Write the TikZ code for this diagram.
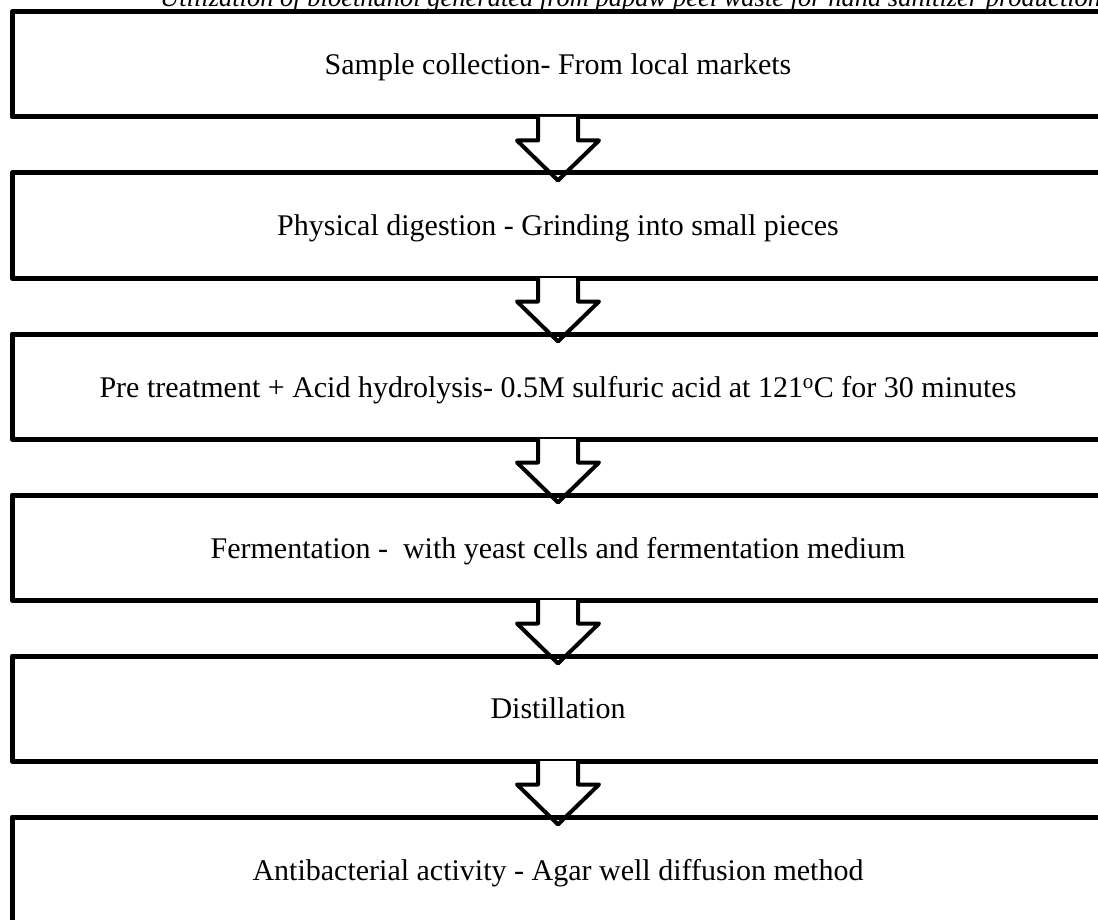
\documentclass[tikz,border=0pt]{standalone}
\usepackage{fontspec}
\setmainfont{Liberation Serif}
\begin{document}
\begin{tikzpicture}[x=1pt,y=-1pt,
  box/.style={draw,line width=5pt,line join=round,minimum width=1092pt,minimum height=105pt,inner sep=0pt,text depth=0pt,font=\fontsize{30}{36}\selectfont},
  flow/.style={draw,line width=4pt,line join=round,fill=white},
  titletext/.style={font=\itshape\fontsize{26.5}{30}\selectfont,anchor=base west,inner sep=0pt}]
\useasboundingbox (0,0) rectangle (1098,920);
\clip (0,0) rectangle (1098,919);
\node[titletext] (title) at (160,7) {Utilization of bioethanol generated from papaw peel waste for hand sanitizer production};
\node[box] (b1) at (558,64.5) {Sample collection- From local markets};
\draw[flow] (b1.south) ++(-20,-2.5) -- ++(0,23.5) -- ++(-21,0) -- ++(41,40) -- ++(41,-40) -- ++(-21,0) -- ++(0,-23.5);
\node[box] (b2) at (558,225.5) {Physical digestion - Grinding into small pieces};
\draw[flow] (b2.south) ++(-20,-2.5) -- ++(0,23.5) -- ++(-21,0) -- ++(41,40) -- ++(41,-40) -- ++(-21,0) -- ++(0,-23.5);
\node[box] (b3) at (558,386.5) {Pre treatment + Acid hydrolysis- 0.5M sulfuric acid at 121\textsuperscript{o}C for 30 minutes};
\draw[flow] (b3.south) ++(-20,-2.5) -- ++(0,23.5) -- ++(-21,0) -- ++(41,40) -- ++(41,-40) -- ++(-21,0) -- ++(0,-23.5);
\node[box] (b4) at (558,547.5) {Fermentation -\ \ with yeast cells and fermentation medium};
\draw[flow] (b4.south) ++(-20,-2.5) -- ++(0,23.5) -- ++(-21,0) -- ++(41,40) -- ++(41,-40) -- ++(-21,0) -- ++(0,-23.5);
\node[box] (b5) at (558,708.5) {Distillation};
\draw[flow] (b5.south) ++(-20,-2.5) -- ++(0,23.5) -- ++(-21,0) -- ++(41,40) -- ++(41,-40) -- ++(-21,0) -- ++(0,-23.5);
\node[box] (b6) at (558,869.5) {Antibacterial activity - Agar well diffusion method};
\end{tikzpicture}
\end{document}
